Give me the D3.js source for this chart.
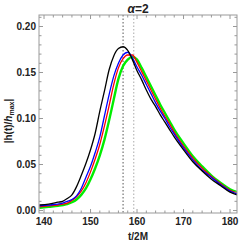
<!DOCTYPE html>
<html><head><meta charset="utf-8">
<script src="https://cdn.jsdelivr.net/npm/d3@7"></script>
<style>body{margin:0;background:#fff}svg{display:block}</style>
</head><body>
<script>
const title = "α=2";
const t = [139,141,143,144,145,146,147,148,149,150,151,152,153,154,155,156,157,158,159,160,161,162,163,164,165,166,167,168,170,172,174,176,178,180,181.5];
const blackV = [.006,.007,.009,.010,.013,.017,.026,.038,.051,.066,.084,.108,.130,.153,.168,.176,.178,.174,.164,.152,.142,.131,.121,.113,.104,.096,.088,.080,.066,.053,.043,.034,.027,.020,.017];
const blueV  = [.005,.006,.007,.008,.010,.012,.016,.024,.036,.048,.063,.080,.103,.126,.146,.160,.169,.172,.166,.156,.147,.137,.127,.117,.108,.100,.091,.083,.068,.055,.044,.036,.028,.021,.018];
const redV   = [.004,.005,.006,.007,.008,.011,.015,.021,.030,.042,.056,.072,.092,.114,.137,.155,.165,.169,.169,.161,.151,.141,.131,.121,.111,.102,.094,.085,.070,.057,.046,.037,.029,.022,.019];
const greenV = [.003,.004,.005,.006,.007,.009,.012,.017,.024,.034,.046,.060,.077,.098,.121,.143,.157,.164,.167,.164,.155,.145,.135,.125,.115,.106,.097,.088,.073,.059,.048,.038,.030,.023,.020];
const vlines = [157.0, 159.3];
const xTicks = [140,150,160,170,180];
const yTicks = [0,0.05,0.10,0.15,0.20];

const W=241,H=246, L=39, T=15, R=237, B=213;
const svg = d3.select("body").append("svg").attr("width",W).attr("height",H);
const x = d3.scaleLinear().domain([138.92,181.5]).range([L,R]);
const y = d3.scaleLinear().domain([-0.0027,0.2125]).range([B,T]);

svg.append("defs").append("clipPath").attr("id","c").append("rect")
  .attr("x",L).attr("y",T).attr("width",R-L).attr("height",B-T);

const g = svg.append("g").attr("clip-path","url(#c)");
g.selectAll("line.v").data(vlines).join("line")
  .attr("x1",d=>x(d)).attr("x2",d=>x(d)).attr("y1",T).attr("y2",B)
  .attr("stroke",(d,i)=>i===0?"#555":"#aaa").attr("stroke-width",1)
  .attr("stroke-dasharray","1.5,2");

const series = [
  {v:greenV,c:"#00ee00",w:2.4},
  {v:redV,c:"#ff0000",w:1.3},
  {v:blueV,c:"#0000ff",w:1.3},
  {v:blackV,c:"#000000",w:1.3}
];
const line = d3.line().x((d,i)=>x(t[i])).y(d=>y(d)).curve(d3.curveMonotoneX);
g.selectAll("path.s").data(series).join("path")
  .attr("d",d=>line(d.v)).attr("fill","none")
  .attr("stroke",d=>d.c).attr("stroke-width",d=>d.w);

const fc="#999";
svg.append("rect").attr("x",L).attr("y",T).attr("width",R-L).attr("height",B-T)
  .attr("fill","none").attr("stroke",fc).attr("stroke-width",1);

const xMin = d3.range(140,182,2), yMin = d3.range(0,0.2101,0.01);
function isMajX(v){return Math.abs(v%10)<1e-6;}
function isMajY(v){return Math.abs(Math.round(v*100)%5)<1e-6;}
const tk = svg.append("g").attr("stroke",fc).attr("stroke-width",1);
xMin.forEach(v=>{
  const len = isMajX(v)?4:2.5, px=x(v);
  tk.append("line").attr("x1",px).attr("x2",px).attr("y1",B).attr("y2",B-len);
  tk.append("line").attr("x1",px).attr("x2",px).attr("y1",T).attr("y2",T+len);
});
yMin.forEach(v=>{
  const len = isMajY(v)?4:2.5, py=y(v);
  tk.append("line").attr("x1",L).attr("x2",L+len).attr("y1",py).attr("y2",py);
  tk.append("line").attr("x1",R).attr("x2",R-len).attr("y1",py).attr("y2",py);
});

const font = "'Liberation Sans', Arial, sans-serif";
svg.selectAll("text.xt").data(xTicks).join("text")
  .attr("x",d=>x(d)).attr("y",225).attr("text-anchor","middle")
  .attr("font-family",font).attr("font-weight","bold").attr("font-size",10).attr("fill","#222")
  .text(d=>d);
svg.selectAll("text.yt").data(yTicks).join("text")
  .attr("x",36).attr("y",d=>y(d)+3.5).attr("text-anchor","end")
  .attr("font-family",font).attr("font-weight","bold").attr("font-size",10).attr("fill","#222")
  .text(d=>d.toFixed(2));

svg.append("text").attr("x",(L+R)/2).attr("y",240).attr("text-anchor","middle")
  .attr("font-family",font).attr("font-weight","bold").attr("font-size",10).attr("fill","#222")
  .text("t/2M");

const tt = svg.append("text").attr("x",(L+R)/2).attr("y",13).attr("text-anchor","middle")
  .attr("font-family",font).attr("font-weight","bold").attr("font-size",12).attr("fill","#222");
tt.append("tspan").attr("font-style","italic").text(title.charAt(0));
tt.append("tspan").text(title.slice(1));

const yl = svg.append("text").attr("transform","translate(12,121) rotate(-90)").attr("text-anchor","middle")
  .attr("font-family",font).attr("font-weight","bold").attr("font-size",10).attr("fill","#222");
yl.append("tspan").text("|h(t)/");
yl.append("tspan").attr("font-style","italic").text("h");
yl.append("tspan").attr("font-size",7).attr("dy",2).text("max");
yl.append("tspan").attr("dy",-2).text("|");
</script>
</body></html>
